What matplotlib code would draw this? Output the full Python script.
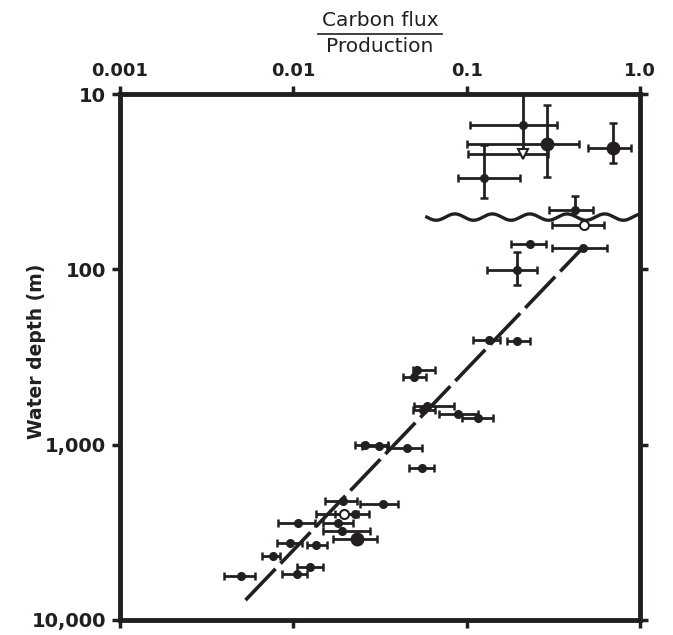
import numpy as np
import matplotlib.pyplot as plt
from matplotlib.lines import Line2D
from matplotlib.ticker import FixedLocator, NullLocator

plt.rcParams["font.family"] = "DejaVu Sans"

INK = "#231f20"

# Carbon flux / production ratio against water depth (m)
ratio = [0.21, 0.29, 0.21, 0.126, 0.70, 0.42, 0.476, 0.232, 0.47, 0.195,
         0.135, 0.195, 0.052, 0.050, 0.059, 0.056, 0.089, 0.116, 0.026, 0.031,
         0.045, 0.055, 0.0194, 0.033, 0.0196, 0.0227, 0.0106, 0.0181, 0.0191, 0.0233,
         0.0096, 0.0135, 0.0076, 0.0125, 0.0105, 0.0050]
depth = [15, 19.3, 22, 30, 20.3, 45.8, 55.8, 71.6, 75.4, 100.6,
         252, 255, 374, 410, 600, 632, 666, 702, 1000, 1013,
         1040, 1352, 2085, 2170, 2474, 2474, 2782, 2782, 3090, 3433,
         3618, 3713, 4290, 4957, 5433, 5577]
ratio_lo = [0.105, 0.100, 0.102, 0.089, 0.50, 0.30, 0.311, 0.180, 0.311, 0.131,
            0.109, 0.171, 0.049, 0.043, 0.050, 0.049, 0.069, 0.094, 0.0227, 0.0249,
            0.0347, 0.0465, 0.0152, 0.0243, 0.0135, 0.0174, 0.0082, 0.0148, 0.0148, 0.0170,
            0.0081, 0.0120, 0.0066, 0.0105, 0.0086, 0.0040]
ratio_hi = [0.332, 0.445, 0.295, 0.203, 0.889, 0.536, 0.621, 0.287, 0.646, 0.255,
            0.156, 0.232, 0.066, 0.058, 0.085, 0.066, 0.116, 0.142, 0.0352, 0.0352,
            0.0553, 0.0649, 0.0233, 0.0402, 0.0236, 0.0273, 0.0134, 0.0221, 0.0277, 0.0304,
            0.0112, 0.0157, 0.0084, 0.0148, 0.0120, 0.0060]
# f = small filled, F = large filled, o = open circle, v = open triangle
kind = ["f", "F", "v", "f", "F", "f", "o", "f", "f", "f",
        "f", "f", "f", "f", "f", "f", "f", "f", "f", "f",
        "f", "f", "f", "f", "o", "f", "f", "f", "f", "F",
        "f", "f", "f", "f", "f", "f"]

# depth ranges for the points that have vertical bars
vbar_idx = [0, 1, 3, 4, 5, 9]
vbar_top = [10, 11.6, 19.5, 14.6, 38, 79.5]
vbar_bot = [21, 29.7, 39.1, 24.7, 45.8, 122.6]

# regression line
fit_ratio = [0.0053, 0.47]
fit_depth = [7700, 75]

ratio = np.array(ratio)
depth = np.array(depth)
ratio_lo = np.array(ratio_lo)
ratio_hi = np.array(ratio_hi)

fig = plt.figure(figsize=(6.73, 6.35), dpi=100)
ax = fig.add_axes([120 / 673, 15 / 635, 520 / 673, 526 / 635])
ax.set_xscale("log")
ax.set_yscale("log")
ax.set_xlim(0.001, 1.0)
ax.set_ylim(10000, 10)

# fitted line, drawn first so the symbols sit on top
ax.plot(fit_ratio, fit_depth, color=INK, lw=2.6, dashes=(12, 2), zorder=2)

# horizontal bars
ax.errorbar(ratio, depth, xerr=[ratio - ratio_lo, ratio_hi - ratio], fmt="none",
            ecolor=INK, elinewidth=2.0, capsize=3, capthick=1.8, zorder=3)
# vertical bars
vb_r = ratio[vbar_idx]
vb_d = depth[vbar_idx]
ax.errorbar(vb_r, vb_d, yerr=[vb_d - np.array(vbar_top), np.array(vbar_bot) - vb_d],
            fmt="none", ecolor=INK, elinewidth=2.0, capsize=3, capthick=1.8, zorder=3,
            clip_on=False)

styles = {
    "f": dict(marker="o", ms=5.5, mfc=INK, mec=INK),
    "F": dict(marker="o", ms=9, mfc=INK, mec=INK),
    "o": dict(marker="o", ms=6.5, mfc="white", mec=INK, mew=1.5),
    "v": dict(marker="v", ms=7, mfc="white", mec=INK, mew=1.5),
}
for k, st in styles.items():
    sel = [i for i, kk in enumerate(kind) if kk == k]
    ax.plot(ratio[sel], depth[sel], ls="none", zorder=4, **st)

# wavy break line in the upper right
wx = np.linspace(0.59, 1.0, 300)
wy = 0.766 + 0.006 * np.sin(2 * np.pi * (wx - 0.59) / 0.072 + np.pi)
ax.plot(wx, wy, transform=ax.transAxes, color=INK, lw=2.4, zorder=3)

for s in ax.spines.values():
    s.set_linewidth(3.5)
    s.set_color(INK)

ax.xaxis.set_major_locator(FixedLocator([0.001, 0.01, 0.1, 1.0]))
ax.xaxis.set_minor_locator(NullLocator())
ax.yaxis.set_major_locator(FixedLocator([10, 100, 1000, 10000]))
ax.yaxis.set_minor_locator(NullLocator())
ax.set_xticklabels(["0.001", "0.01", "0.1", "1.0"])
ax.set_yticklabels(["10", "100", "1,000", "10,000"])
ax.tick_params(axis="both", which="major", direction="out", length=6, width=2.5,
               color=INK, labelsize=13, labelcolor=INK, top=True, right=True,
               labeltop=True, labelbottom=False, pad=4)
ax.tick_params(axis="y", labelsize=14)
for lab in ax.get_xticklabels() + ax.get_yticklabels():
    lab.set_fontweight("bold")

ax.set_ylabel("Water depth (m)", fontsize=13.5, fontweight="bold", color=INK)
ax.yaxis.set_label_coords(-0.143, 0.511)

# fraction label over the top axis
fig.text(380 / 673, 1 - 20 / 635, "Carbon flux", ha="center", va="center",
         fontsize=14.5, color=INK)
fig.text(380 / 673, 1 - 47 / 635, "Production", ha="center", va="center",
         fontsize=14.5, color=INK)
fig.add_artist(Line2D([318 / 673, 442 / 673], [1 - 34 / 635, 1 - 34 / 635],
                      transform=fig.transFigure, color=INK, lw=1.2))

fig.savefig("out.png", dpi=100)
